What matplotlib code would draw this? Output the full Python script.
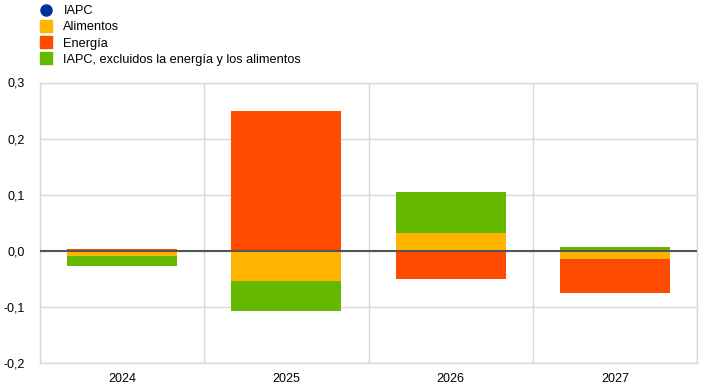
import numpy as np
import matplotlib
matplotlib.use("Agg")
import matplotlib.pyplot as plt
from matplotlib.lines import Line2D

plt.rcParams['font.family'] = ['Liberation Sans', 'DejaVu Sans']

# datos (contribuciones, puntos porcentuales)
years = ['2024', '2025', '2026', '2027']
alimentos = [-0.009, -0.054, 0.032, -0.014]
energia = [0.004, 0.250, -0.050, -0.061]
subyacente = [-0.018, -0.053, 0.072, 0.007]

series = [('Alimentos', alimentos, '#FFB400'),
          ('Energía', energia, '#FF4B00'),
          ('IAPC, excluidos la energía y los alimentos', subyacente, '#65B800')]

fig = plt.figure(figsize=(7.05, 3.9), dpi=100)
ax = fig.add_axes([40 / 705, 1 - 363 / 390, 657 / 705, 280.5 / 390])

x = np.arange(len(years))
pos_base = np.zeros(len(years))
neg_base = np.zeros(len(years))
for name, vals, color in series:
    vals = np.array(vals)
    base = np.where(vals >= 0, pos_base, neg_base)
    ax.bar(x, vals, bottom=base, width=0.67, color=color, zorder=3)
    pos_base += np.where(vals >= 0, vals, 0)
    neg_base += np.where(vals < 0, vals, 0)

ax.axhline(0, color='#555555', lw=1.5, zorder=4)

ax.set_xlim(-0.5, len(years) - 0.5)
ax.set_ylim(-0.2, 0.3)
yt = [-0.2, -0.1, 0.0, 0.1, 0.2, 0.3]
ax.set_yticks(yt)
ax.set_yticklabels([f'{v:.1f}'.replace('.', ',') for v in yt])
ax.set_xticks(x)
ax.set_xticklabels(years)
ax.set_xticks(np.arange(len(years) + 1) - 0.5, minor=True)
ax.grid(True, axis='y', which='major', color='#d9d9d9', lw=1, zorder=0)
ax.grid(True, axis='x', which='minor', color='#d9d9d9', lw=1, zorder=0)
ax.tick_params(which='both', length=0, labelsize=9, colors='black')
ax.tick_params(axis='y', pad=11)
ax.tick_params(axis='x', pad=7)
for s in ax.spines.values():
    s.set_color('#d9d9d9')
    s.set_linewidth(1)

handles = [Line2D([], [], marker='o', ls='', color='#003299', markersize=8)]
handles += [Line2D([], [], marker='s', ls='', color=c, markersize=8) for _, _, c in series]
labels = ['IAPC'] + [n for n, _, _ in series]
fig.legend(handles, labels, loc='upper left', bbox_to_anchor=(34 / 705, 1.0),
           frameon=False, fontsize=9.2, handlelength=1.0, handletextpad=0.9,
           labelspacing=0.33, borderaxespad=0.0)

fig.savefig('out.png', dpi=100)
